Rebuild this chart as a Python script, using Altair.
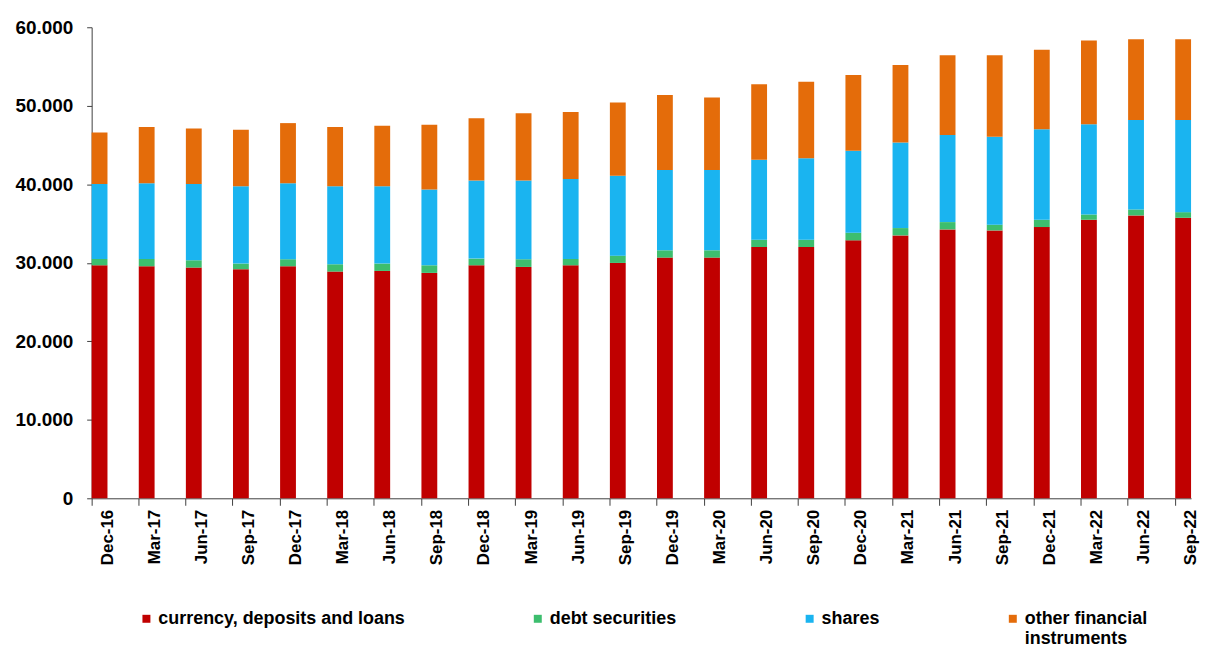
import altair as alt
import pandas as pd

quarters = ["Dec-16", "Mar-17", "Jun-17", "Sep-17", "Dec-17", "Mar-18", "Jun-18", "Sep-18",
            "Dec-18", "Mar-19", "Jun-19", "Sep-19", "Dec-19", "Mar-20", "Jun-20", "Sep-20",
            "Dec-20", "Mar-21", "Jun-21", "Sep-21", "Dec-21", "Mar-22", "Jun-22", "Sep-22"]

currency = [29680, 29560, 29390, 29180, 29560, 28880, 28960, 28710, 29680, 29470, 29680, 29980,
            30660, 30660, 32010, 32010, 32860, 33490, 34250, 34120, 34550, 35480, 36030, 35730]
debt = [800, 920, 930, 720, 890, 930, 940, 970, 850, 980, 800, 930,
        930, 930, 930, 930, 970, 930, 930, 730, 930, 670, 760, 720]
shares = [9570, 9650, 9730, 9850, 9680, 9940, 9850, 9650, 9940, 10020, 10200, 10190,
          10230, 10230, 10190, 10360, 10440, 10910, 11080, 11200, 11540, 11510, 11410, 11750]
other = [6540, 7150, 7060, 7190, 7660, 7530, 7690, 8240, 7950, 8580, 8540, 9300,
         9560, 9220, 9600, 9770, 9640, 9850, 10190, 10400, 10100, 10650, 10280, 10280]

series_names = ["currency, deposits and loans", "debt securities", "shares", "other financial instruments"]
series_colors = ["#C00000", "#3DBE6E", "#1AB4F0", "#E46C0A"]
series_values = [currency, debt, shares, other]

rows = []
for si, (name, vals) in enumerate(zip(series_names, series_values)):
    for q, v in zip(quarters, vals):
        rows.append({"quarter": q, "series": name, "value": v, "order": si})
df = pd.DataFrame(rows)

FONT = "Liberation Sans"

chart = alt.Chart(df).mark_bar().encode(
    x=alt.X("quarter:N", sort=quarters, title=None,
            scale=alt.Scale(paddingInner=0.664, paddingOuter=0),
            axis=alt.Axis(labelAngle=270, labelFontSize=17, labelFont=FONT, labelFontWeight="bold",
                          labelColor="#000000", bandPosition=0, labelOffset=8,
                          tickSize=7, tickColor="#404040", domainColor="#404040",
                          labelPadding=4, grid=False)),
    y=alt.Y("value:Q", stack="zero", title=None,
            scale=alt.Scale(domain=[0, 60000], nice=False),
            axis=alt.Axis(values=[0, 10000, 20000, 30000, 40000, 50000, 60000],
                          labelExpr="replace(format(datum.value, ','), ',', '.')",
                          labelFontSize=19, labelFont=FONT, labelFontWeight="bold",
                          labelColor="#000000", tickSize=5, tickColor="#404040",
                          domainColor="#404040", labelPadding=14, grid=False)),
    color=alt.Color("series:N", sort=series_names,
                    scale=alt.Scale(domain=series_names, range=series_colors),
                    legend=alt.Legend(title=None, orient="none", legendX=46, legendY=585,
                                      direction="horizontal", columns=4, gridAlign="none",
                                      columnPadding=124, padding=0,
                                      symbolType="square", symbolSize=64, symbolStrokeWidth=0,
                                      labelFont=FONT, labelFontSize=18, labelFontWeight="bold",
                                      labelColor="#000000", labelOffset=3, labelLimit=400,
                                      labelExpr="datum.label == 'other financial instruments' ? ['other financial', 'instruments'] : datum.label")),
    order=alt.Order("order:Q", sort="ascending"),
).properties(
    width=1104, height=473,
    padding={"left": 84, "top": 18, "right": 14, "bottom": 150},
    autosize=alt.AutoSizeParams(type="none"),
).configure_view(stroke=None)

chart.save("out.html", embed_options={"renderer": "svg", "actions": False})
